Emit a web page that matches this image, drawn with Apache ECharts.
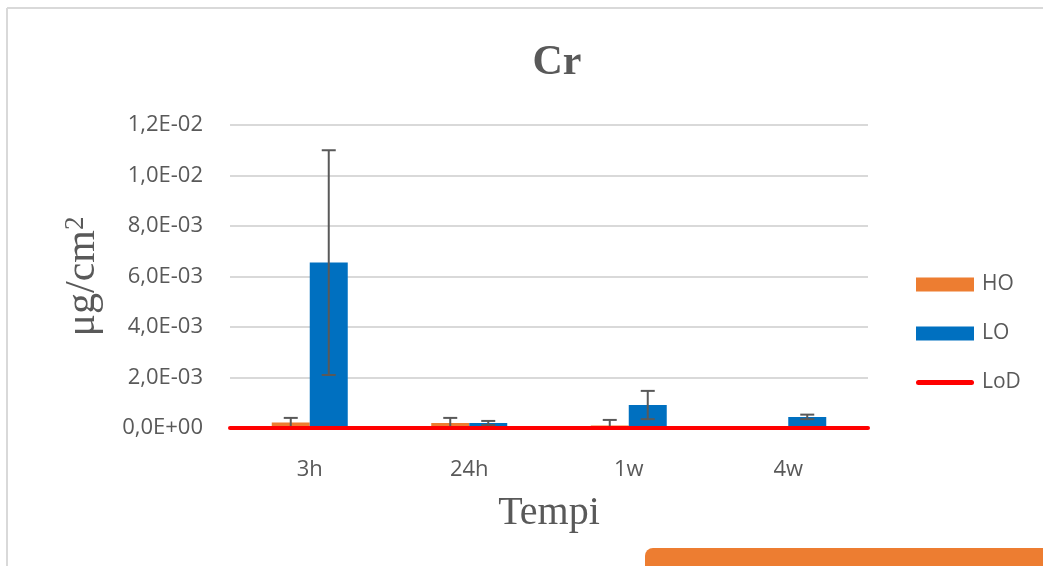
<!DOCTYPE html>
<html>
<head>
<meta charset="utf-8">
<script src="https://cdn.jsdelivr.net/npm/echarts@6/dist/echarts.min.js"></script>
<style>
    html, body { margin: 0; padding: 0; background: #fff; }
    #chart { width: 1043px; height: 566px; }
</style>
</head>
<body>
<div id="chart"></div>
<script>
// 数据
const categories = ['3h', '24h', '1w', '4w']
const hoValues = [2.2e-4, 2.0e-4, 1.0e-4, 0]
const hoErrors = [1.8e-4, 2.0e-4, 2.2e-4, 0]
const loValues = [6.55e-3, 2.0e-4, 9.1e-4, 4.4e-4]
const loErrors = [4.45e-3, 8.0e-5, 5.6e-4, 9.0e-5]
const lodValues = [0, 0]
const yTicks = [0, 2e-3, 4e-3, 6e-3, 8e-3, 1e-2, 1.2e-2]

const textGrey = '#595959'

// 1,2E-02 这种格式
const formatSci = (v) => {
    if (v === 0) return '0,0E+00'
    const parts = v.toExponential(1).split('e')
    const exp = parseInt(parts[1], 10)
    const sign = exp < 0 ? '-' : '+'
    const e = String(Math.abs(exp)).padStart(2, '0')
    return parts[0].replace('.', ',') + 'E' + sign + e
}

// 误差线
const errorSeries = (name, values, errors, seriesIndex) => ({
    name: name + '_err',
    type: 'custom',
    z: 5,
    data: categories.map((c, i) => [i, values[i] - errors[i], values[i] + errors[i], errors[i]]),
    renderItem: (params, api) => {
        if (api.value(3) === 0) return null
        const offset = seriesIndex === 0 ? -19 : 19
        const low = api.coord([api.value(0), Math.max(api.value(1), 0)])
        const high = api.coord([api.value(0), api.value(2)])
        const x = low[0] + offset
        const cap = 7
        const style = {stroke: '#595959', lineWidth: 2}
        return {
            type: 'group',
            children: [
                {type: 'line', shape: {x1: x, y1: low[1], x2: x, y2: high[1]}, style: style},
                {type: 'line', shape: {x1: x - cap, y1: high[1], x2: x + cap, y2: high[1]}, style: style},
                {type: 'line', shape: {x1: x - cap, y1: low[1], x2: x + cap, y2: low[1]}, style: style},
            ]
        }
    }
})

const charts = echarts.init(document.getElementById('chart'))

const option = {
    animation: false,
    backgroundColor: '#ffffff',
    title: {
        text: 'Cr',
        left: 552,
        top: 37,
        textAlign: 'center',
        textStyle: {
            fontFamily: 'Liberation Serif',
            fontSize: 42,
            fontWeight: 'bold',
            color: textGrey,
        },
    },
    legend: {
        orient: 'vertical',
        left: 911,
        top: 269,
        itemWidth: 58,
        itemHeight: 14,
        itemGap: 28,
        data: [
            {name: 'HO', icon: 'rect'},
            {name: 'LO', icon: 'rect'},
            // 细线图例
            {name: 'LoD', icon: 'path://M2.5,0 L55.5,0 A2.5,2.5 0 0 1 55.5,5 L2.5,5 A2.5,2.5 0 0 1 2.5,0 Z'},
        ],
        textStyle: {
            fontFamily: 'Open Sans',
            fontSize: 21,
            color: textGrey,
            padding: [0, 0, 0, 3],
        },
    },
    grid: {
        left: 230,
        right: 175,
        top: 125,
        bottom: 138,
    },
    xAxis: [
        {
            type: 'category',
            data: categories,
            axisLine: {show: false},
            axisTick: {show: false},
            axisLabel: {
                margin: 31,
                fontFamily: 'Open Sans',
                fontSize: 22,
                color: textGrey,
            },
            name: 'Tempi',
            nameLocation: 'middle',
            nameGap: 65,
            nameTextStyle: {
                fontFamily: 'Liberation Serif',
                fontSize: 40,
                color: textGrey,
            },
        },
        {
            type: 'value',
            min: 0,
            max: 1,
            show: false,
        }
    ],
    yAxis: {
        type: 'value',
        min: 0,
        max: 1.2e-2,
        interval: 2e-3,
        axisLine: {show: false},
        axisTick: {show: false},
        splitLine: {lineStyle: {color: '#d9d9d9', width: 2}},
        axisLabel: {
            margin: 27,
            fontFamily: 'Open Sans',
            fontSize: 22,
            color: textGrey,
            formatter: (v) => formatSci(yTicks.find(t => Math.abs(t - v) < 1e-9) ?? v),
        },
        name: '{a|μg/cm}{b|2}',
        nameLocation: 'middle',
        nameRotate: 90,
        nameGap: 126,
        nameTextStyle: {
            rich: {
                a: {fontFamily: 'Liberation Serif', fontSize: 42, color: textGrey},
                b: {fontFamily: 'Liberation Serif', fontSize: 27, color: textGrey, verticalAlign: 'top', padding: [0, 0, 14, 0]},
            }
        },
    },
    series: [
        {
            name: 'HO',
            type: 'bar',
            data: hoValues,
            barWidth: 38,
            barGap: '0%',
            itemStyle: {color: '#ED7D31'},
        },
        {
            name: 'LO',
            type: 'bar',
            data: loValues,
            barWidth: 38,
            barGap: '0%',
            itemStyle: {color: '#0070C0'},
        },
        errorSeries('HO', hoValues, hoErrors, 0),
        errorSeries('LO', loValues, loErrors, 1),
        {
            name: 'LoD',
            type: 'line',
            xAxisIndex: 1,
            data: lodValues.map((v, i) => [i, v]),
            symbol: 'none',
            z: 6,
            lineStyle: {color: '#FF0000', width: 4, cap: 'round'},
            itemStyle: {color: '#FF0000'},
        },
    ],
    graphic: [
        {type: 'line', shape: {x1: 7, y1: 8, x2: 1043, y2: 8}, style: {stroke: '#d9d9d9', lineWidth: 2}},
        {type: 'line', shape: {x1: 7, y1: 8, x2: 7, y2: 566}, style: {stroke: '#d9d9d9', lineWidth: 2}},
        {type: 'rect', shape: {x: 645, y: 548, width: 410, height: 30, r: 8}, style: {fill: '#ED7D31'}},
    ],
}
charts.setOption(option)
</script>
</body>
</html>
